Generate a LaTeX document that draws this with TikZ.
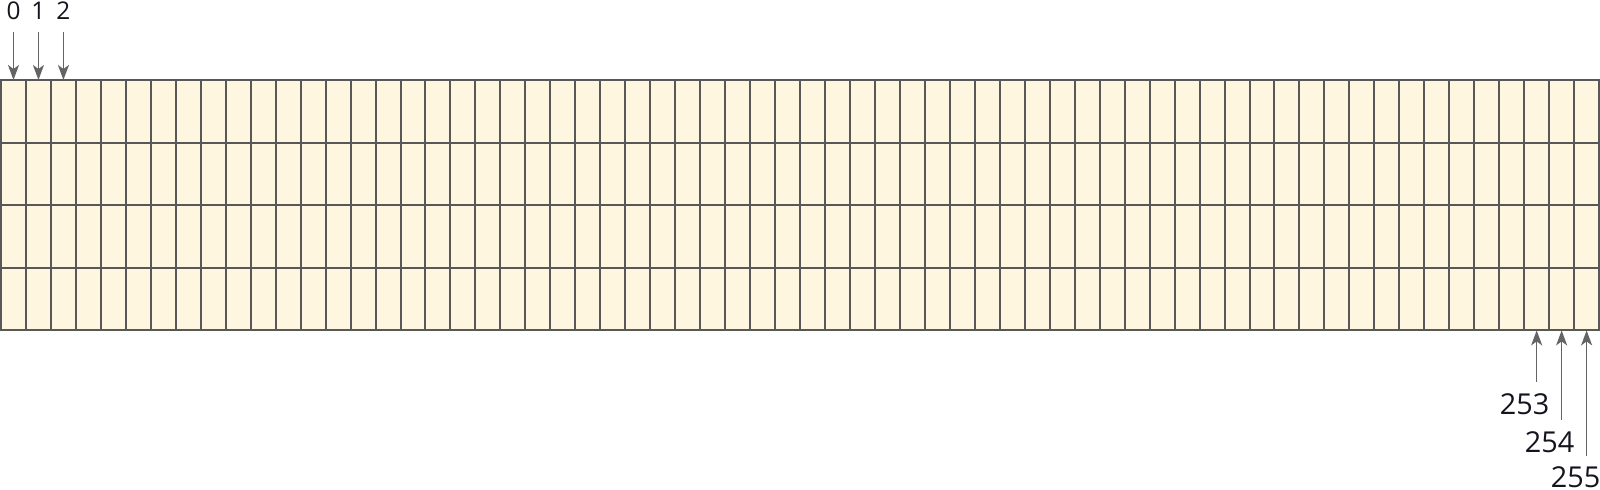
\documentclass[tikz,border=0pt]{standalone}
\usepackage{fontspec}
\setmainfont{Open Sans}
\usetikzlibrary{arrows.meta}
\definecolor{cellfill}{RGB}{255,246,224}
\definecolor{gridline}{RGB}{88,88,88}
\definecolor{arrowc}{RGB}{100,100,100}
\definecolor{txt}{RGB}{20,20,30}
\begin{document}
\begin{tikzpicture}[x=0.5pt,y=-0.5pt,
  cell/.style={rectangle, draw=gridline, fill=cellfill, line width=1pt,
    minimum width=12.485pt, minimum height=31.3pt, inner sep=0pt, outer sep=0pt},
  toplab/.style={anchor=base, inner sep=0pt, text=txt, font=\fontsize{12.2}{14}\selectfont},
  botlab/.style={anchor=base, inner sep=0pt, text=txt, font=\fontsize{14.4}{17}\selectfont},
  arr/.style={draw=arrowc, line width=0.75pt,
    -{Stealth[length=7.5pt, width=5.5pt, inset=2pt]}}]
\useasboundingbox (0,0) rectangle (1600,490);
\foreach \r in {0,...,3} {
  \foreach \c in {0,...,63} {
    \pgfmathtruncatemacro\idx{\r*64+\c}
    \node[cell] (c\idx) at ({1+(\c+0.5)*24.97},{80+(\r+0.5)*62.6}) {};
  }
}
% top labels
\foreach \i in {0,1,2} {
  \node[toplab] (l\i) at ([yshift=30pt]c\i.north) {\i};
  \coordinate (t\i) at ([yshift=-6pt]l\i.base);
  \draw[arr] (t\i) -- (c\i.north);
}
% bottom labels
\node[botlab] (l253) at ([xshift=-6pt,yshift=-42.2pt]c253.south) {253};
\node[botlab] (l254) at ([xshift=-6pt,yshift=-61.2pt]c254.south) {254};
\node[botlab] (l255) at ([xshift=-5.5pt,yshift=-78.6pt]c255.south) {255};
\coordinate (t253) at ([xshift=6pt,yshift=16.5pt]l253.base);
\coordinate (t254) at ([xshift=6pt,yshift=16.5pt]l254.base);
\coordinate (t255) at ([xshift=5.5pt,yshift=16pt]l255.base);
\draw[arr] (t253) -- (c253.south);
\draw[arr] (t254) -- (c254.south);
\draw[arr] (t255) -- (c255.south);
\end{tikzpicture}
\end{document}
